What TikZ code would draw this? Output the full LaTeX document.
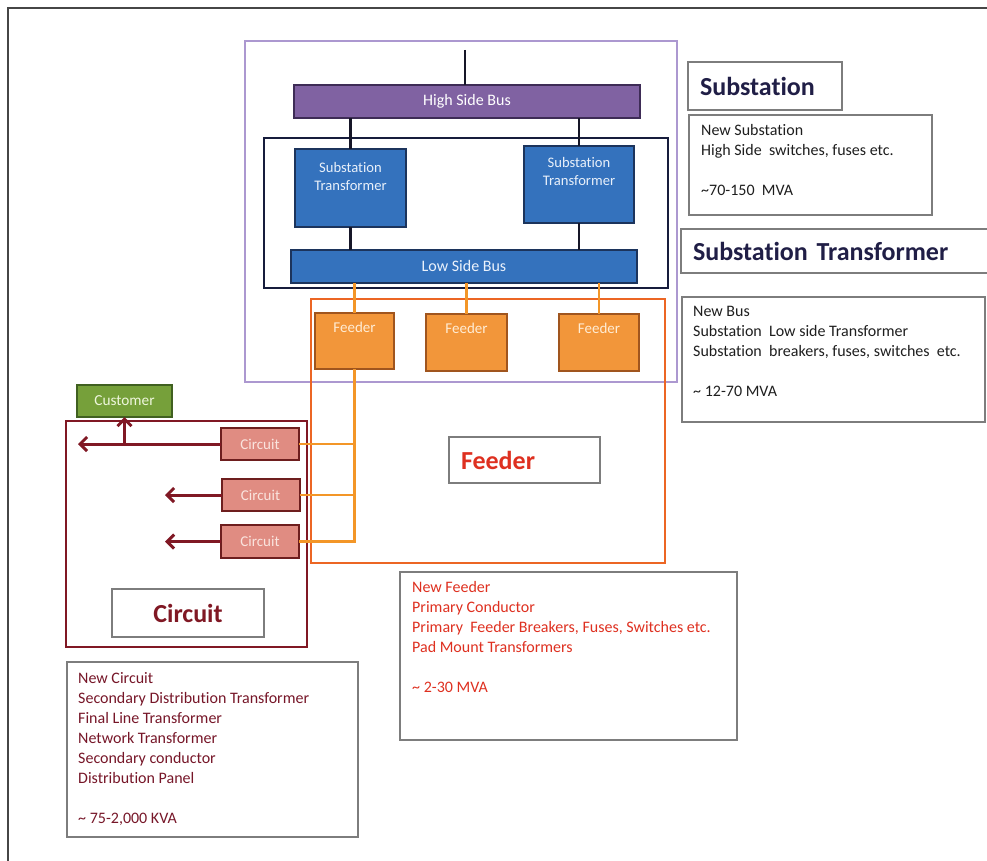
\documentclass[tikz,border=0pt]{standalone}
\usepackage{fontspec}
\setmainfont[Ligatures={NoCommon}]{Carlito}
\usetikzlibrary{arrows.meta}
\definecolor{frameC}{RGB}{70,70,70}
\definecolor{lav}{RGB}{172,152,208}
\definecolor{busP}{RGB}{128,98,162}
\definecolor{busPd}{RGB}{62,44,86}
\definecolor{blueF}{RGB}{52,114,189}
\definecolor{blueD}{RGB}{28,52,92}
\definecolor{navy}{RGB}{22,28,60}
\definecolor{orgF}{RGB}{242,150,58}
\definecolor{orgD}{RGB}{160,85,30}
\definecolor{orgL}{RGB}{243,150,40}
\definecolor{orgR}{RGB}{236,102,36}
\definecolor{salF}{RGB}{224,140,130}
\definecolor{salD}{RGB}{110,30,30}
\definecolor{wine}{RGB}{128,24,36}
\definecolor{grnF}{RGB}{118,160,58}
\definecolor{grnD}{RGB}{64,96,32}
\definecolor{grayB}{RGB}{125,125,125}
\definecolor{titleC}{RGB}{32,30,70}
\definecolor{fred}{RGB}{222,48,32}
\definecolor{cred}{RGB}{118,22,40}
\definecolor{txtD}{RGB}{30,30,30}
\definecolor{wireC}{RGB}{22,22,40}
\begin{document}
\begin{tikzpicture}[x=1pt,y=-1pt,
  block/.style={draw, line width=2pt, inner sep=0pt, outer sep=0pt},
  region/.style={draw, inner sep=0pt, outer sep=0pt},
  bus/.style={block, font=\fontsize{16}{19}\selectfont},
  titlebox/.style={draw=grayB, line width=1.1pt, inner xsep=12pt, inner ysep=0pt, outer sep=0pt, align=left, font=\fontsize{26}{30}\selectfont\bfseries},
  descbox/.style={draw=grayB, line width=1.1pt, inner sep=0pt, outer sep=0pt},
  desctext/.style={anchor=north west, inner sep=0pt, align=left, font=\fontsize{16}{20}\selectfont},
  wire/.style={line width=2.8pt, draw=wireC},
  owire/.style={line width=2.8pt, draw=orgL},
  arr/.style={line width=3pt, draw=wine, -{Straight Barb[length=7pt,width=14pt]}}
]
\useasboundingbox (0,0) rectangle (987,861);
% outer frame
\draw[frameC, line width=1.8pt] (8,861) -- (8,8) -- (987,8);

% regions
\node[region, draw=lav, line width=2pt, minimum width=432, minimum height=341] (subreg) at (461,211.5) {};
\node[region, draw=navy, line width=2.2pt, minimum width=404, minimum height=150] (treg) at (466,213) {};
\node[region, draw=orgR, line width=2.2pt, minimum width=354, minimum height=264] (freg) at (488,431) {};
\node[region, draw=wine, line width=2.2pt, minimum width=241, minimum height=226] (creg) at (186.5,534) {};

% blocks
\node[bus, fill=busP, draw=busPd, text=white, minimum width=346, minimum height=33] (hbus) at (467,101.5) {High Side Bus};
\node[block, fill=blueF, draw=blueD, minimum width=111, minimum height=78,
  label={[anchor=north, inner sep=0pt, yshift=-10.4pt, align=center, text={rgb,255:red,232;green,240;blue,250}, font=\fontsize{14.6}{18}\selectfont]north:\strut Substation\\Transformer}] (t1) at (350.5,188) {};
\node[block, fill=blueF, draw=blueD, minimum width=110, minimum height=77,
  label={[anchor=north, inner sep=0pt, yshift=-8.4pt, align=center, text={rgb,255:red,232;green,240;blue,250}, font=\fontsize{14.6}{18}\selectfont]north:\strut Substation\\Transformer}] (t2) at (579,184.5) {};
\node[bus, fill=blueF, draw=blueD, text={rgb,255:red,235;green,242;blue,252}, minimum width=346, minimum height=33] (lbus) at (464,266.5) {Low Side Bus};

\coordinate (top) at (465,50);

% wires (black)
\draw[wire] (top) -- (top |- hbus.north);
\draw[wire] (t1.north) -- (t1.north |- hbus.south);
\draw[wire] (t2.north) -- (t2.north |- hbus.south);
\draw[wire] (t1.south) -- (t1.south |- lbus.north);
\draw[wire] (t2.south) -- (t2.south |- lbus.north);

% feeders
\tikzset{feed/.style={block, fill=orgF, draw=orgD,
  label={[anchor=north, inner sep=0pt, yshift=-7.5pt, text={rgb,255:red,255;green,236;blue,212}, font=\fontsize{15}{17}\selectfont]north:\strut Feeder}}}
\node[feed, minimum width=79, minimum height=56] (f1) at (354.5,341) {};
\node[feed, minimum width=81, minimum height=57] (f2) at (466.5,342.5) {};
\node[feed, minimum width=80, minimum height=57] (f3) at (599,342.5) {};

% circuits and customer
\tikzset{circ/.style={block, fill=salF, draw=salD, text={rgb,255:red,250;green,228;blue,222}, font=\fontsize{15}{17}\selectfont, minimum width=78, minimum height=32}}
\node[circ] (c1) at (260,444) {Circuit};
\node[circ] (c2) at (260.5,495) {Circuit};
\node[circ, minimum height=33] (c3) at (260,541.5) {Circuit};
\node[block, fill=grnF, draw=grnD, text={rgb,255:red,238;green,246;blue,220}, font=\fontsize{15.3}{17}\selectfont, minimum width=95, minimum height=32] (cust) at (124.5,401) {Customer};

% orange wires
\draw[owire] (f1.north) -- (f1.north |- lbus.south);
\draw[owire] (f2.north) -- (f2.north |- lbus.south);
\draw[owire] (f3.north) -- (f3.north |- lbus.south);
\draw[owire] (f1.south) |- (c3.east);
\draw[owire] (c1.east) -- (c1.east -| f1.south);
\draw[owire] (c2.east) -- (c2.east -| f1.south);

% arrows
\coordinate (a1) at (78,444);
\coordinate (a2) at (165,495);
\coordinate (a3) at (165,541.5);
\draw[arr] (c1.west) -- (a1);
\draw[arr] (c2.west) -- (a2);
\draw[arr] (c3.west) -- (a3);
\draw[arr] (cust.south |- c1.west) -- (cust.south);

% title boxes
\node[titlebox, text=titleC, text width=130, minimum height=48] (subtitle) at (765,86) {Substation};
\node[titlebox, text=titleC, text width=291, minimum height=44] (sttitle) at (838.5,251) {Substation Transformer};
\node[titlebox, text=fred, text width=127, minimum height=46] (ftitle) at (524.5,460) {Feeder};
\node[titlebox, text=wine, align=center, text width=128, minimum height=48] (ctitle) at (188,613) {Circuit};

% description boxes
\node[descbox, minimum width=243, minimum height=100] (subdesc) at (810.5,165) {};
\node[desctext, text=txtD] (subdesctxt) at (701,121) {\strut New Substation\\High Side\ \ switches, fuses etc.\\[20pt]\textasciitilde 70-150\ \ MVA};

\node[descbox, minimum width=303, minimum height=125] (stdesc) at (833.5,359.5) {};
\node[desctext, text=txtD] (stdesctxt) at (693,302) {\strut New Bus\\Substation\ \ Low side Transformer\\Substation\ \ breakers, fuses, switches\ \ etc.\\[20pt]\textasciitilde\ 12-70 MVA};

\node[descbox, minimum width=337, minimum height=168] (fdesc) at (568.5,656) {};
\node[desctext, text=fred] (fdesctxt) at (412,578.5) {\strut New Feeder\\Primary Conductor\\Primary\ \ Feeder Breakers, Fuses, Switches etc.\\Pad Mount Transformers\\[20pt]\textasciitilde\ 2-30 MVA};

\node[descbox, minimum width=291, minimum height=175] (cdesc) at (212.5,749.5) {};
\node[desctext, text=cred] (cdesctxt) at (78,669.5) {\strut New Circuit\\Secondary Distribution Transformer\\Final Line Transformer\\Network Transformer\\Secondary conductor\\Distribution Panel\\[20pt]\textasciitilde\ 75-2,000 KVA};
\end{tikzpicture}
\end{document}
